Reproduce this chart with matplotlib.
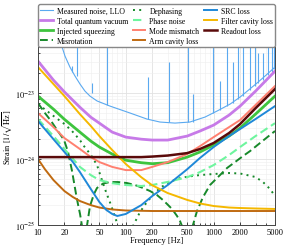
import numpy as np
import matplotlib
matplotlib.use("Agg")
import matplotlib.pyplot as plt
from matplotlib.ticker import FixedLocator, NullFormatter, LogLocator

plt.rcParams['font.family'] = ['Liberation Serif', 'DejaVu Serif']
plt.rcParams['mathtext.fontset'] = 'stix'
plt.rcParams['font.size'] = 6

# ---- data (frequency in Hz, strain in 1/sqrt(Hz)) ----
f_grid = [10, 15, 20, 30, 40, 50, 70, 100, 150, 200, 300, 500, 700, 1000, 1500, 2000, 3000, 5000]

total_quantum = [3.05e-23, 1.57e-23, 1.04e-23, 6.1e-24, 4.3e-24, 3.5e-24, 2.56e-24, 2.15e-24, 2.0e-24,
                 1.94e-24, 1.94e-24, 2.23e-24, 2.66e-24, 3.27e-24, 4.64e-24, 6.35e-24, 1.07e-23, 2.15e-23]
filter_cavity = [2.48e-23, 1.37e-23, 9.0e-24, 4.8e-24, 3.16e-24, 2.23e-24, 1.37e-24, 8.4e-25, 5.3e-25,
                 4.0e-25, 3.05e-25, 2.4e-25, 2.12e-25, 1.94e-25, 1.84e-25, 1.81e-25, 1.78e-25, 1.75e-25]
injected_sqz = [9.0e-24, 5.7e-24, 4.0e-24, 2.56e-24, 1.87e-24, 1.52e-24, 1.19e-24, 9.6e-25, 8.8e-25,
                8.5e-25, 8.8e-25, 1.07e-24, 1.28e-24, 1.63e-24, 2.23e-24, 2.95e-24, 4.8e-24, 9.0e-24]
readout = [1.07e-24, 1.07e-24, 1.07e-24, 1.07e-24, 1.07e-24, 1.07e-24, 1.07e-24, 1.07e-24, 1.07e-24,
           1.09e-24, 1.13e-24, 1.23e-24, 1.42e-24, 1.75e-24, 2.48e-24, 3.39e-24, 5.9e-24, 1.15e-23]
mode_mismatch = [4.98e-24, 3.05e-24, 2.08e-24, 1.42e-24, 1.07e-24, 9.0e-25, 7.6e-25, 6.8e-25, 6.8e-25,
                 7.6e-25, 9.0e-25, 1.19e-24, 1.57e-24, 2.15e-24, 3.05e-24, 3.9e-24, 6.6e-24, 1.28e-23]
phase_noise = [4.04e-24, 2.23e-24, 1.42e-24, 7.6e-25, 5.7e-25, 4.8e-25, 4.3e-25, 4.04e-25, 3.9e-25,
               4.04e-25, 4.5e-25, 5.3e-25, 6.35e-25, 8.1e-25, 1.15e-24, 1.52e-24, 2.23e-24, 3.5e-24]

f_src = [10, 15, 20, 25, 30, 40, 50, 60, 70, 80, 100, 120, 150, 200, 300, 500, 700, 1000, 1500, 2000, 3000, 5000]
src_loss = [3.77e-24, 2.0e-24, 1.28e-24, 9.0e-25, 6.35e-25, 3.5e-25, 2.23e-25, 1.69e-25, 1.47e-25, 1.37e-25,
            1.47e-25, 1.69e-25, 2.0e-25, 2.75e-25, 4.04e-25, 7.0e-25, 1.04e-24, 1.52e-24, 2.23e-24,
            2.85e-24, 4.04e-24, 6.35e-24]

f_arm = [10, 12, 15, 20, 25, 30, 40, 50, 70, 100, 200, 1000, 5000]
arm_loss = [1.0e-24, 7.0e-25, 4.8e-25, 3.27e-25, 2.65e-25, 2.31e-25, 2.0e-25, 1.84e-25, 1.72e-25,
            1.66e-25, 1.63e-25, 1.63e-25, 1.63e-25]

f_deph = [10, 15, 20, 24.4, 30, 33.4, 40.1, 47.0, 50.8, 57.9, 66.1, 73.4, 81.5, 88, 94, 99, 105, 112, 121,
          145, 174, 204, 245, 300, 383, 500, 700, 1000, 1500, 2000, 3000, 3650, 4390, 5000]
dephasing = [6.8e-24, 4.5e-24, 3.4e-24, 2.66e-24, 1.94e-24, 1.57e-24, 1.15e-24, 8.1e-25, 5.9e-25, 3.5e-25,
             2.2e-25, 1.47e-25, 9.7e-26, 5.5e-26, 3e-26, 1.5e-26, 3e-26, 5.5e-26, 9.7e-26,
             1.57e-25, 2.23e-25, 2.85e-25, 3.64e-25, 4.33e-25, 5.0e-25, 5.4e-25, 5.72e-25, 5.93e-25,
             6.14e-25, 6.04e-25, 5.34e-25, 4.48e-25, 3.51e-25, 2.75e-25]

f_misrot = [10, 12.0, 14.1, 16.5, 17.8, 19.8, 22.0, 24.4, 27.1, 28.5, 30.1, 31.7, 33.8, 36.1, 39.1, 43.4,
            47.0, 55.0, 66.1, 81.5, 103, 127, 157, 189, 226, 265, 295, 336, 383, 414, 460, 498, 539, 582,
            647, 757, 910, 1183, 1421, 1753, 2162, 2598, 3375, 5000]
misrotation = [7.05e-24, 4.98e-24, 3.77e-24, 2.75e-24, 2.39e-24, 1.94e-24, 1.28e-24, 6.6e-25, 2.95e-25,
               2.08e-25, 1.47e-25, 9.7e-26, 1e-26, 9.7e-26, 1.94e-25, 2.95e-25, 3.64e-25, 4.25e-25,
               4.48e-25, 4.48e-25, 4.33e-25, 4.04e-25, 3.64e-25, 3.27e-25, 2.85e-25, 2.39e-25, 2.08e-25,
               1.75e-25, 1.37e-25, 1.15e-25, 8.1e-26, 1e-26, 8.1e-26, 1.0e-25, 1.63e-25, 2.65e-25,
               4.04e-25, 5.72e-25, 7.31e-25, 9.0e-25, 1.11e-24, 1.32e-24, 1.75e-24, 2.66e-24]

f_meas = [17.8, 18.8, 20.3, 23.1, 26.4, 30.1, 34.3, 39.1, 47.0, 66.1, 112, 174, 245, 363, 536, 798,
          1093, 1538, 2000, 3119, 3953, 5000]
measured = [6.6e-23, 5.0e-23, 3.64e-23, 2.48e-23, 1.81e-23, 1.37e-23, 1.07e-23, 9.0e-24, 7.6e-24,
            6.35e-24, 4.98e-24, 4.04e-24, 3.64e-24, 3.51e-24, 3.64e-24, 4.33e-24, 5.34e-24, 6.8e-24,
            8.7e-24, 1.42e-23, 1.87e-23, 2.48e-23]

# narrow lines in the measured spectrum: frequency, bottom, top
spike_f = [24.5, 27.8, 41, 61, 179, 310, 510, 580, 985, 1180, 1420, 1670, 1900, 2170, 2580, 2950,
           3200, 3630, 4150, 4640, 4880]
spike_lo = [2.1e-23, 1.8e-23, 1.0e-23, 6.6e-24, 4.0e-24, 3.6e-24, 3.6e-24, 3.7e-24, 5.0e-24, 5.6e-24,
            6.3e-24, 7.0e-24, 8.0e-24, 9.0e-24, 1.1e-23, 1.3e-23, 1.4e-23, 1.6e-23, 1.9e-23, 2.1e-23, 2.3e-23]
spike_hi = [2.6e-23, 1e-21, 1.4e-23, 1e-21, 1.75e-23, 2.95e-23, 1e-21, 9.7e-24, 1e-21, 1.5e-23,
            1e-21, 3e-23, 1e-21, 1e-21, 1e-21, 1e-21, 4e-23, 4e-23, 1e-21, 1e-21, 1e-21]

xticks = [10, 20, 50, 100, 200, 500, 1000, 2000, 5000]
yticks = [1e-25, 1e-24, 1e-23]

fig = plt.figure(figsize=(2.87, 2.51), dpi=100)
ax = fig.add_axes([0.1324, 0.0996, 0.8258, 0.7092])

c_meas = '#5aa9f0'
ax.plot(f_meas, measured, color=c_meas, lw=0.8, label='Measured noise, LLO')
ax.vlines(spike_f, spike_lo, spike_hi, color=c_meas, lw=0.8)
ax.plot(f_grid, total_quantum, color='#c77ae8', lw=2.0, label='Total quantum vacuum')
ax.plot(f_grid, injected_sqz, color='#3ec43e', lw=2.0, label='Injected squeezing')
ax.plot(f_misrot, misrotation, color='#17892a', lw=1.4, ls=(0, (4, 2)), label='Misrotation')
ax.plot(f_deph, dephasing, color='#17892a', lw=1.4, ls=(0, (1, 2.2)), label='Dephasing')
ax.plot(f_grid, phase_noise, color='#6ef59e', lw=1.5, ls=(0, (4, 2)), label='Phase noise')
ax.plot(f_grid, mode_mismatch, color='#ff8070', lw=1.4, label='Mode mismatch')
ax.plot(f_arm, arm_loss, color='#c06a10', lw=1.4, label='Arm cavity loss')
ax.plot(f_src, src_loss, color='#1f88d8', lw=1.4, label='SRC loss')
ax.plot(f_grid, filter_cavity, color='#f5b800', lw=1.4, label='Filter cavity loss')
ax.plot(f_grid, readout, color='#5a0a0a', lw=1.8, label='Readout loss')

ax.set_xscale('log')
ax.set_yscale('log')
ax.set_xlim(10, 5000)
ax.set_ylim(1e-25, 5e-23)
ax.xaxis.set_major_locator(FixedLocator(xticks))
ax.set_xticklabels([str(t) for t in xticks])
ax.xaxis.set_minor_formatter(NullFormatter())
ax.yaxis.set_major_locator(FixedLocator(yticks))
ax.set_yticklabels([r'$10^{-25}$', r'$10^{-24}$', r'$10^{-23}$'])
ax.yaxis.set_minor_locator(LogLocator(base=10, subs=np.arange(2, 10)))
ax.yaxis.set_minor_formatter(NullFormatter())
ax.grid(which='major', color='#e2e2e2', lw=0.6)
ax.grid(which='minor', color='#eeeeee', lw=0.4)
ax.set_axisbelow(True)
ax.tick_params(which='both', direction='in', labelsize=6, length=2.5, width=0.5, pad=2)
ax.tick_params(which='minor', length=1.5)
for s in ax.spines.values():
    s.set_color('#444444')
    s.set_linewidth(0.7)

ax.set_xlabel('Frequency [Hz]', fontsize=6, labelpad=0.5)
ax.set_ylabel(r'Strain [$1/\sqrt{\mathrm{Hz}}$]', fontsize=6, labelpad=0.5)

leg = ax.legend(loc='lower left', bbox_to_anchor=(0, 1.0, 1, 0.25), mode='expand', ncol=3,
                borderaxespad=0, fontsize=5.6, handlelength=1.6, handletextpad=0.5,
                columnspacing=0.4, labelspacing=0.25, borderpad=0.3, fancybox=True,
                framealpha=1, edgecolor='#888888')
leg.get_frame().set_linewidth(1.0)

fig.savefig('out.png', dpi=100)
